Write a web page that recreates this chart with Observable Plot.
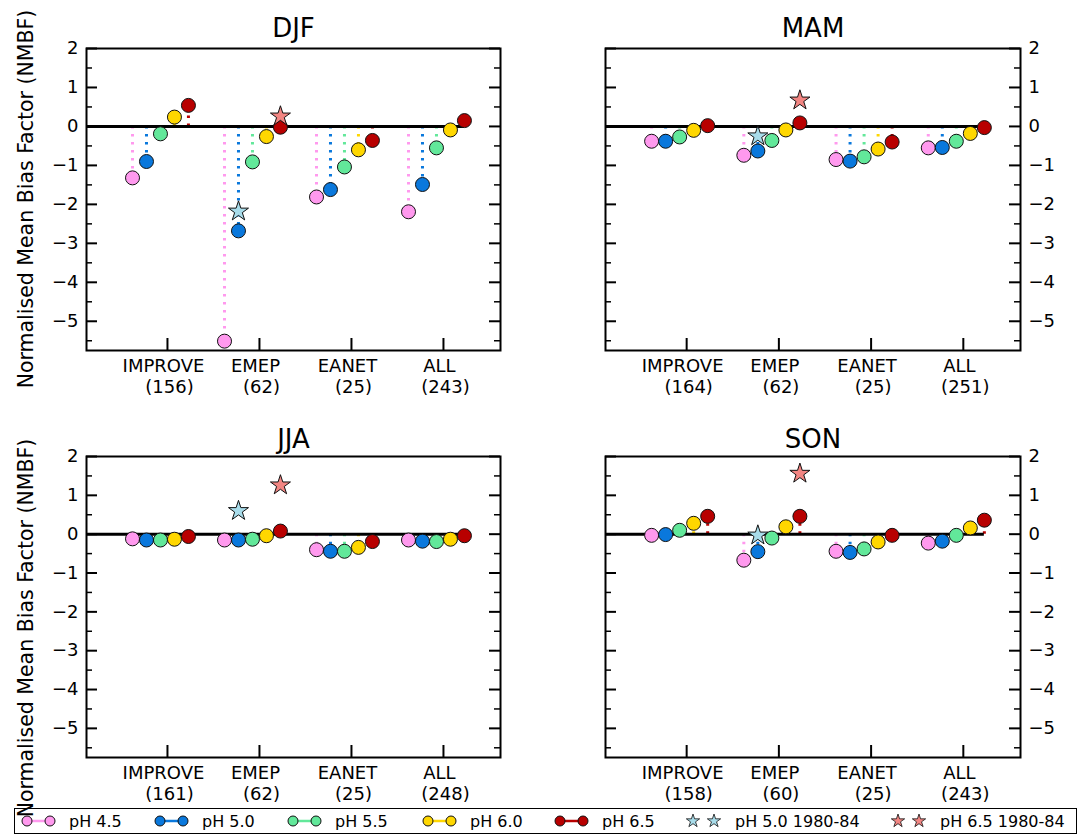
<!DOCTYPE html>
<html>
<head>
<meta charset="utf-8">
<script src="https://cdn.jsdelivr.net/npm/d3@7"></script>
<script src="https://cdn.jsdelivr.net/npm/@observablehq/plot@0.6"></script>
<style>
  html, body { margin: 0; padding: 0; background: #fff; }
  #fig { position: relative; width: 1084px; height: 835px; font-family: "DejaVu Sans", sans-serif; color: #000; overflow: hidden; }
  .panel { position: absolute; }
  .panel svg { overflow: visible; }
  .ylab { position: absolute; font-size: 20.5px; white-space: nowrap; transform: translate(-50%, -50%) rotate(-90deg); }
  #legend { position: absolute; left: 14px; top: 808px; width: 1061px; height: 24px; border: 1.5px solid #000; box-sizing: content-box; }
  .litem { position: absolute; top: 0; height: 24px; display: flex; align-items: center; font-size: 16px; white-space: nowrap; }
</style>
</head>
<body>
<div id="fig"></div>
<script>
// ---------------- data ----------------
const seasons = ["DJF", "MAM", "JJA", "SON"];
const networks = ["IMPROVE", "EMEP", "EANET", "ALL"];
const phLevels = ["pH 4.5", "pH 5.0", "pH 5.5", "pH 6.0", "pH 6.5"];
const phColors = ["#ff99ee", "#0a78dc", "#62e89a", "#ffd700", "#b80000"];
const starLabels = ["pH 5.0 1980-84", "pH 6.5 1980-84"];
const starColors = ["#a8dcea", "#f28582"];

const countsDJF = [156, 62, 25, 243];
const countsMAM = [164, 62, 25, 251];
const countsJJA = [161, 62, 25, 248];
const countsSON = [158, 60, 25, 243];

// rows: pH 4.5 .. 6.5 ; columns: IMPROVE, EMEP, EANET, ALL
const nmbfDJF = [
  [-1.32, -5.51, -1.81, -2.19],
  [-0.90, -2.68, -1.62, -1.49],
  [-0.19, -0.91, -1.04, -0.55],
  [ 0.24, -0.26, -0.60, -0.09],
  [ 0.54, -0.02, -0.36,  0.15]
];
const nmbfMAM = [
  [-0.38, -0.74, -0.85, -0.55],
  [-0.38, -0.63, -0.89, -0.54],
  [-0.27, -0.36, -0.78, -0.38],
  [-0.10, -0.09, -0.58, -0.18],
  [ 0.02,  0.09, -0.40, -0.03]
];
const nmbfJJA = [
  [-0.12, -0.15, -0.40, -0.15],
  [-0.15, -0.15, -0.44, -0.18],
  [-0.15, -0.13, -0.44, -0.19],
  [-0.13, -0.04, -0.34, -0.13],
  [-0.06,  0.08, -0.19, -0.04]
];
const nmbfSON = [
  [-0.03, -0.67, -0.44, -0.23],
  [-0.01, -0.45, -0.47, -0.18],
  [ 0.10, -0.10, -0.38, -0.03],
  [ 0.28,  0.19, -0.20,  0.16],
  [ 0.46,  0.46, -0.03,  0.36]
];
// EMEP 1980-84 runs, one value per season (DJF, MAM, JJA, SON)
const star50 = [-2.18, -0.25, 0.60, -0.03];
const star65 = [0.26, 0.67, 1.26, 1.56];

const yMajor = [-5, -4, -3, -2, -1, 0, 1, 2];
const yMinor = [-5.5, -4.5, -3.5, -2.5, -1.5, -0.5, 0.5, 1.5];

// ---------------- layout ----------------
const X0 = 0.12, X1 = 4.62;          // x domain
const GOFF = -0.38, STEP = 0.152;    // offsets of pH markers around network tick
const xOf = (g, k) => g + 1 + GOFF + STEP * k;
const fmt = d => d < 0 ? "\u2212" + Math.abs(d) : String(d);

const panels = [
  {season: "DJF", vals: nmbfDJF, counts: countsDJF, si: 0, left: 0,   top: 0,   width: 542, height: 400, mL: 86, mR: 42, mT: 48, mB: 50, side: "left",  titleDy: -12},
  {season: "MAM", vals: nmbfMAM, counts: countsMAM, si: 1, left: 542, top: 0,   width: 542, height: 400, mL: 63, mR: 64, mT: 48, mB: 50, side: "right", titleDy: -12},
  {season: "JJA", vals: nmbfJJA, counts: countsJJA, si: 2, left: 0,   top: 400, width: 542, height: 420, mL: 86, mR: 42, mT: 56, mB: 63, side: "left",  titleDy: -9},
  {season: "SON", vals: nmbfSON, counts: countsSON, si: 3, left: 542, top: 400, width: 542, height: 420, mL: 63, mR: 64, mT: 56, mB: 63, side: "right", titleDy: -9}
];

const fig = document.getElementById("fig");

for (const p of panels) {
  const rows = [];
  p.vals.forEach((series, k) => series.forEach((v, g) => rows.push({ph: phLevels[k], x: xOf(g, k), v})));
  const stars = [
    {x: xOf(1, 1), v: star50[p.si], c: starColors[0]},
    {x: xOf(1, 4), v: star65[p.si], c: starColors[1]}
  ];
  const plotW = p.width - p.mL - p.mR;
  const plotH = p.height - p.mT - p.mB;
  const chart = Plot.plot({
    width: p.width, height: p.height,
    marginLeft: p.mL, marginRight: p.mR, marginTop: p.mT, marginBottom: p.mB,
    style: {fontFamily: "DejaVu Sans, sans-serif", fontSize: "18px", color: "#000", background: "transparent", overflow: "visible"},
    x: {domain: [X0, X1], axis: null},
    y: {domain: [-5.75, 2], label: null},
    color: {domain: phLevels, range: phColors},
    marks: [
      Plot.ruleX(rows, {x: "x", y1: 0, y2: "v", stroke: "ph", strokeWidth: 3, strokeDasharray: "2.5,5.5"}),
      Plot.ruleY([0], {x1: X0, x2: xOf(3, 4), stroke: "#000", strokeWidth: 3}),
      Plot.dot(rows, {x: "x", y: "v", fill: "ph", stroke: "#111", strokeWidth: 1, r: 7}),
      Plot.dot(stars, {x: "x", y: "v", fill: "c", stroke: "#111", strokeWidth: 1, symbol: "star", r: 6.3}),
      Plot.tickY(yMajor, {y: d => d, insetRight: plotW - 11, strokeWidth: 2}),
      Plot.tickY(yMajor, {y: d => d, insetLeft: plotW - 11, strokeWidth: 2}),
      Plot.tickY(yMinor, {y: d => d, insetRight: plotW - 6, strokeWidth: 1.5}),
      Plot.tickY(yMinor, {y: d => d, insetLeft: plotW - 6, strokeWidth: 1.5}),
      Plot.tickX([1, 2, 3, 4], {x: d => d, insetTop: plotH - 12, strokeWidth: 2}),
      Plot.axisY(yMajor, {anchor: p.side, tickSize: 0, tickPadding: 8, tickFormat: fmt, fontSize: 18, label: null}),
      Plot.frame({stroke: "#000", strokeWidth: 2}),
      Plot.text(networks, {x: (d, i) => i + 1, text: d => d, frameAnchor: "bottom", lineAnchor: "top", dy: 9, dx: -4, fontSize: 18}),
      Plot.text(p.counts, {x: (d, i) => i + 1, text: d => `(${d})`, frameAnchor: "bottom", lineAnchor: "top", dy: 30, dx: 2, fontSize: 18}),
      Plot.text([p.season], {text: d => d, frameAnchor: "top", lineAnchor: "bottom", dy: p.titleDy, fontSize: 26})
    ]
  });
  const div = document.createElement("div");
  div.className = "panel";
  div.style.left = p.left + "px";
  div.style.top = p.top + "px";
  div.appendChild(chart);
  fig.appendChild(div);
}

// y-axis labels
for (const cy of [199, 628]) {
  const d = document.createElement("div");
  d.className = "ylab";
  d.style.left = "26px";
  d.style.top = cy + "px";
  d.textContent = "Normalised Mean Bias Factor (NMBF)";
  fig.appendChild(d);
}

// legend
const legend = document.createElement("div");
legend.id = "legend";
fig.appendChild(legend);
const legendItems = [
  ...phLevels.map((l, i) => ({label: l, color: phColors[i], star: false})),
  ...starLabels.map((l, i) => ({label: l, color: starColors[i], star: true}))
];
const legendX = [3, 136, 269, 404, 536, 669, 874]; // left of handle inside legend box
const starPath = d3.symbol(d3.symbolStar, 55)();
legendItems.forEach((it, i) => {
  const item = document.createElement("div");
  item.className = "litem";
  item.style.left = legendX[i] + "px";
  const svg = d3.create("svg").attr("width", 44).attr("height", 24).style("margin-right", "7px").style("overflow", "visible");
  if (!it.star) {
    svg.append("line").attr("x1", 9).attr("x2", 32).attr("y1", 12).attr("y2", 12).attr("stroke", it.color).attr("stroke-width", 2.5);
    for (const cx of [9, 32]) svg.append("circle").attr("cx", cx).attr("cy", 12).attr("r", 5).attr("fill", it.color).attr("stroke", "#111").attr("stroke-width", 1);
  } else {
    for (const cx of [9, 30]) svg.append("path").attr("d", starPath).attr("transform", `translate(${cx},12)`).attr("fill", it.color).attr("stroke", "#111").attr("stroke-width", 0.8);
  }
  item.appendChild(svg.node());
  const t = document.createElement("span");
  t.textContent = it.label;
  item.appendChild(t);
  legend.appendChild(item);
});
</script>
</body>
</html>
